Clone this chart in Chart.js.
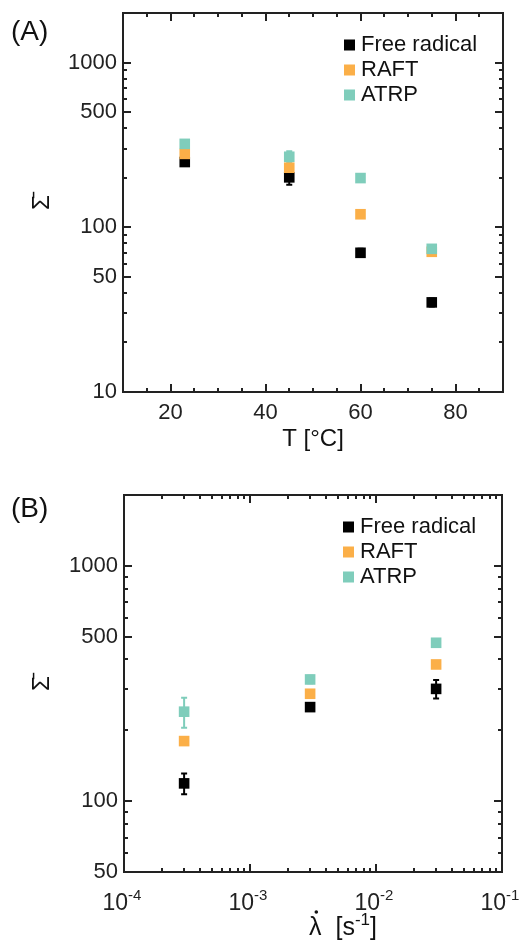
<!DOCTYPE html>
<html>
<head>
<meta charset="utf-8">
<script src="https://cdn.jsdelivr.net/npm/chart.js@4.4.1/dist/chart.umd.min.js"></script>
<style>
  html, body { margin: 0; padding: 0; background: #fff; }
  canvas { display: block; }
</style>
</head>
<body>
<canvas id="chartA" width="524" height="470"></canvas>
<canvas id="chartB" width="524" height="474"></canvas>
<script>
// ==== Panel (A): temperature ====
const tempC = [23, 45, 60, 75];
const freeA = [249, 201, 70, 35];
const raftA = [279, 230, 120, 71];
const atrpA = [321, 268, 199, 74];
const freeErrA = [10, 20, 4, 2];
const raftErrA = [10, 12, 6, 3];
const atrpErrA = [12, 22, 8, 3];
const xTicksA = [20, 40, 60, 80];
const yTicksA = [10, 50, 100, 500, 1000];

// ==== Panel (B): strain rate ====
const rate = [3e-4, 3e-3, 3e-2];
const freeB = [119, 251, 300];
const raftB = [180, 286, 381];
const atrpB = [240, 329, 471];
const freeErrB = [12, 8, 27];
const raftErrB = [6, 8, 10];
const atrpErrB = [35, 12, 10];
const xTicksB = [1e-4, 1e-3, 1e-2, 1e-1];
const yTicksB = [50, 100, 500, 1000];

const seriesNames = ["Free radical", "RAFT", "ATRP"];
const seriesColors = ["#000000", "#FBAF48", "#7FCDBB"];

const INK = "#222";
const FONT = "'Liberation Sans', Arial, sans-serif";
Chart.defaults.font.family = FONT;
Chart.defaults.color = INK;

function series(xs, ys) {
  return xs.map((x, i) => ({ x: x, y: ys[i] }));
}

// all values that get a tick mark (major ones are the labelled ticks)
function tickValues(scale) {
  const out = [];
  if (scale.type === "logarithmic") {
    for (let e = -6; e <= 4; e++) {
      for (let m = 1; m <= 9; m++) {
        const v = m * Math.pow(10, e);
        if (v > scale.min * 1.0001 && v < scale.max * 0.9999) out.push(v);
      }
    }
  } else {
    for (let v = Math.ceil(scale.min / 5) * 5; v <= scale.max; v += 5) {
      if (v > scale.min && v < scale.max) out.push(v);
    }
  }
  return out;
}

function isMajor(scale, v) {
  return scale.ticks.some(t => Math.abs(t.value - v) / v < 1e-6);
}

// text made of [string, isSuperscript] pieces, centred on cx; returns left x
function drawRich(ctx, parts, cx, baseline, size) {
  const supSize = Math.round(size * 0.66);
  const widths = parts.map(([s, sup]) => {
    ctx.font = (sup ? supSize : size) + "px " + FONT;
    return ctx.measureText(s).width;
  });
  const left = cx - widths.reduce((a, b) => a + b, 0) / 2;
  let x = left;
  ctx.textAlign = "left";
  ctx.textBaseline = "alphabetic";
  parts.forEach(([s, sup], i) => {
    ctx.font = (sup ? supSize : size) + "px " + FONT;
    ctx.fillText(s, x, sup ? baseline - size * 0.42 : baseline);
    x += widths[i];
  });
  return left;
}

// frame, inward ticks, error bars, legend, panel letter, x title
const panelPlugin = {
  id: "panel",
  beforeDatasetsDraw(chart) {
    const { ctx } = chart;
    const xs = chart.scales.x, ys = chart.scales.y;
    ctx.save();
    ctx.lineWidth = 2;
    chart.data.datasets.forEach(ds => {
      if (!ds.errors) return;
      ctx.strokeStyle = ds.backgroundColor;
      ds.data.forEach((p, j) => {
        const e = ds.errors[j];
        const px = xs.getPixelForValue(p.x);
        const top = ys.getPixelForValue(p.y + e);
        const bot = ys.getPixelForValue(p.y - e);
        ctx.beginPath();
        ctx.moveTo(px, top); ctx.lineTo(px, bot);
        ctx.moveTo(px - 3, top); ctx.lineTo(px + 3, top);
        ctx.moveTo(px - 3, bot); ctx.lineTo(px + 3, bot);
        ctx.stroke();
      });
    });
    ctx.restore();
  },
  afterDraw(chart, args, opts) {
    const { ctx, chartArea: a } = chart;
    const xs = chart.scales.x, ys = chart.scales.y;
    ctx.save();
    ctx.strokeStyle = INK;
    ctx.lineWidth = 2;
    ctx.strokeRect(a.left, a.top, a.right - a.left, a.bottom - a.top);

    ctx.beginPath();
    tickValues(xs).forEach(v => {
      const len = isMajor(xs, v) ? 8 : 4;
      const px = Math.round(xs.getPixelForValue(v));
      ctx.moveTo(px, a.bottom); ctx.lineTo(px, a.bottom - len);
      ctx.moveTo(px, a.top); ctx.lineTo(px, a.top + len);
    });
    tickValues(ys).forEach(v => {
      const len = isMajor(ys, v) ? 8 : 4;
      const py = Math.round(ys.getPixelForValue(v));
      ctx.moveTo(a.left, py); ctx.lineTo(a.left + len, py);
      ctx.moveTo(a.right, py); ctx.lineTo(a.right - len, py);
    });
    ctx.stroke();

    // legend inside the plot, top right
    const lx = a.right - 159, ly = a.top + 32;
    ctx.font = "22px " + FONT;
    ctx.textBaseline = "middle";
    ctx.textAlign = "left";
    chart.data.datasets.forEach((ds, i) => {
      const cy = ly + i * 25;
      ctx.fillStyle = ds.backgroundColor;
      ctx.fillRect(lx, cy - 5.5, 11, 11);
      ctx.fillStyle = "#111";
      ctx.fillText(ds.label, lx + 17, cy);
    });

    // panel letter
    ctx.font = "28px " + FONT;
    ctx.fillText(opts.letter, 11, opts.letterY);

    // powers of ten under a log x axis
    ctx.fillStyle = INK;
    if (opts.powerLabels) {
      xs.ticks.forEach(t => {
        const exp = Math.round(Math.log10(t.value));
        drawRich(ctx, [["10", false], [String(exp), true]], xs.getPixelForValue(t.value) - 2, a.bottom + 38, 23);
      });
    }

    // x axis title
    ctx.fillStyle = "#111";
    const cx = (a.left + a.right) / 2 + opts.xTitleDx;
    const base = a.bottom + opts.xTitleDy;
    const left = drawRich(ctx, opts.xTitle, cx, base, opts.xTitleSize);
    if (opts.dotFirst) {
      // dot over the first glyph (lambda)
      ctx.font = opts.xTitleSize + "px " + FONT;
      const lw = ctx.measureText(opts.xTitle[0][0].charAt(0)).width;
      ctx.beginPath();
      ctx.arc(left + lw / 2 + 1, base - opts.xTitleSize * 0.92, 1.8, 0, Math.PI * 2);
      ctx.fill();
    }
    ctx.restore();
  }
};

function yAxis(min, max, ticks, width) {
  return {
    type: "logarithmic",
    min: min,
    max: max,
    afterBuildTicks: s => { s.ticks = ticks.map(v => ({ value: v })); },
    afterFit: s => { s.width = width; s.paddingTop = 0; s.paddingBottom = 0; },
    grid: { display: false, drawTicks: false },
    border: { display: false },
    ticks: { callback: v => String(v), font: { size: 22 }, padding: 6, color: INK },
    title: { display: true, text: "\u03A3\u0304", font: { size: 24 }, color: "#111", padding: { top: 28 } }
  };
}

function pointDatasets(xs, free, raft, atrp, freeErr, raftErr, atrpErr) {
  return [
    { label: seriesNames[0], data: series(xs, free), errors: freeErr, backgroundColor: seriesColors[0], order: 2 },
    { label: seriesNames[1], data: series(xs, raft), errors: raftErr, backgroundColor: seriesColors[1], order: 1 },
    { label: seriesNames[2], data: series(xs, atrp), errors: atrpErr, backgroundColor: seriesColors[2], order: 0 }
  ];
}

const pointStyle = { point: { pointStyle: "rect", radius: 7.5, hoverRadius: 7.5, borderWidth: 0 } };

// ==== Chart (A) ====
new Chart(document.getElementById("chartA"), {
  type: "scatter",
  data: { datasets: pointDatasets(tempC, freeA, raftA, atrpA, freeErrA, raftErrA, atrpErrA) },
  options: {
    responsive: false,
    animation: false,
    layout: { padding: { top: 13, right: 21, left: 0, bottom: 0 } },
    elements: pointStyle,
    plugins: {
      legend: { display: false },
      tooltip: { enabled: false },
      panel: { letter: "(A)", letterY: 32, xTitle: [["T [\u00B0C]", false]], xTitleSize: 24, xTitleDx: 0, xTitleDy: 54 }
    },
    scales: {
      x: {
        type: "linear",
        min: 10,
        max: 90,
        afterBuildTicks: s => { s.ticks = xTicksA.map(v => ({ value: v })); },
        afterFit: s => { s.height = 78; s.paddingLeft = 0; s.paddingRight = 0; },
        grid: { display: false, drawTicks: false },
        border: { display: false },
        ticks: { font: { size: 22 }, padding: 8, color: INK, maxRotation: 0 }
      },
      y: yAxis(10, 2000, yTicksA, 123)
    }
  },
  plugins: [panelPlugin]
});

// ==== Chart (B) ====
new Chart(document.getElementById("chartB"), {
  type: "scatter",
  data: { datasets: pointDatasets(rate, freeB, raftB, atrpB, freeErrB, raftErrB, atrpErrB) },
  options: {
    responsive: false,
    animation: false,
    layout: { padding: { top: 25, right: 22, left: 0, bottom: 0 } },
    elements: pointStyle,
    plugins: {
      legend: { display: false },
      tooltip: { enabled: false },
      panel: {
        letter: "(B)",
        letterY: 39,
        powerLabels: true,
        xTitle: [["\u03BB  [s", false], ["-1", true], ["]", false]],
        xTitleSize: 25,
        dotFirst: true,
        xTitleDx: 30,
        xTitleDy: 63
      }
    },
    scales: {
      x: {
        type: "logarithmic",
        min: 1e-4,
        max: 1e-1,
        afterBuildTicks: s => { s.ticks = xTicksB.map(v => ({ value: v })); },
        afterFit: s => { s.height = 72; s.paddingLeft = 0; s.paddingRight = 0; },
        grid: { display: false, drawTicks: false },
        border: { display: false },
        ticks: { display: false }
      },
      y: yAxis(50, 2000, yTicksB, 124)
    }
  },
  plugins: [panelPlugin]
});
</script>
</body>
</html>
